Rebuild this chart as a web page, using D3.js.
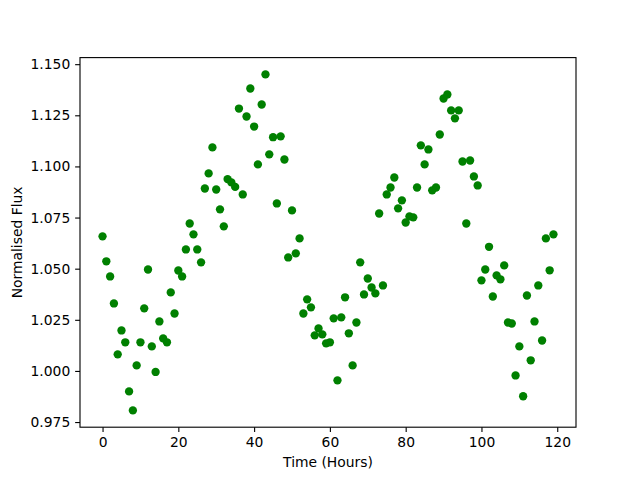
<!DOCTYPE html>
<html>
<head>
<meta charset="utf-8">
<script src="https://cdn.jsdelivr.net/npm/d3@7"></script>
<style>
  body { margin: 0; background: #fff; }
  svg { display: block; font-family: "DejaVu Sans", sans-serif; }
</style>
</head>
<body>
<div id="chart"></div>
<script>
// time in hours
const hours = [
  0, 1, 2, 3, 4, 5, 6, 7, 8, 9, 10, 11, 12, 13, 14, 15, 16, 17, 18, 19,
  20, 21, 22, 23, 24, 25, 26, 27, 28, 29, 30, 31, 32, 33, 34, 35, 36, 37, 38, 39,
  40, 41, 42, 43, 44, 45, 46, 47, 48, 49, 50, 51, 52, 53, 54, 55, 56, 57, 58, 59,
  60, 61, 62, 63, 64, 65, 66, 67, 68, 69, 70, 71, 72, 73, 74, 75, 76, 77, 78, 79,
  80, 81, 82, 83, 84, 85, 86, 87, 88, 89, 90, 91, 92, 93, 94, 95, 96, 97, 98, 99,
  100, 101, 102, 103, 104, 105, 106, 107, 108, 109, 110, 111, 112, 113, 114, 115, 116, 117, 118, 119
];

// normalised flux
const flux = [
  1.0658, 1.0536, 1.0462, 1.0330, 1.0081, 1.0198, 1.0140, 0.9900, 0.9807, 1.0027,
  1.0140, 1.0306, 1.0496, 1.0120, 0.9995, 1.0242, 1.0159, 1.0140, 1.0384, 1.0281,
  1.0491, 1.0462, 1.0594, 1.0721, 1.0668, 1.0594, 1.0531, 1.0892, 1.0966, 1.1093,
  1.0887, 1.0790, 1.0707, 1.0938, 1.0922, 1.0900, 1.1283, 1.0863, 1.1244, 1.1381,
  1.1195, 1.1010, 1.1303, 1.1450, 1.1059, 1.1143, 1.0819, 1.1147, 1.1034, 1.0555,
  1.0785, 1.0575, 1.0648, 1.0281, 1.0350, 1.0311, 1.0174, 1.0208, 1.0179, 1.0135,
  1.0140, 1.0257, 0.9954, 1.0262, 1.0360, 1.0184, 1.0027, 1.0237, 1.0531, 1.0374,
  1.0452, 1.0408, 1.0379, 1.0770, 1.0418, 1.0863, 1.0897, 1.0946, 1.0795, 1.0834,
  1.0726, 1.0756, 1.0751, 1.0897, 1.1103, 1.1010, 1.1083, 1.0883, 1.0897, 1.1156,
  1.1332, 1.1352, 1.1274, 1.1235, 1.1274, 1.1024, 1.0721, 1.1029, 1.0951, 1.0907,
  1.0443, 1.0496, 1.0607, 1.0364, 1.0467, 1.0448, 1.0516, 1.0237, 1.0232, 0.9978,
  1.0120, 0.9876, 1.0369, 1.0052, 1.0242, 1.0418, 1.0149, 1.0648, 1.0492, 1.0668
];

const xTicks = [0, 20, 40, 60, 80, 100, 120];
const yTicks = [0.975, 1.000, 1.025, 1.050, 1.075, 1.100, 1.125, 1.150];

const width = 640;
const height = 480;
const margin = { top: 57.6, right: 64, bottom: 52.8, left: 80 };
const innerW = width - margin.left - margin.right;
const innerH = height - margin.top - margin.bottom;
const pt = 100 / 72;

// matplotlib style 5% padding around the data
function padded(values) {
  const [lo, hi] = d3.extent(values);
  const pad = (hi - lo) * 0.05;
  return [lo - pad, hi + pad];
}

const x = d3.scaleLinear().domain(padded(hours)).range([0, innerW]);
const y = d3.scaleLinear().domain(padded(flux)).range([innerH, 0]);

const svg = d3.select('#chart')
  .append('svg')
  .attr('width', width)
  .attr('height', height);

const g = svg.append('g')
  .attr('transform', `translate(${margin.left},${margin.top})`);

g.append('clipPath')
  .attr('id', 'clip')
  .append('rect')
  .attr('width', innerW)
  .attr('height', innerH);

const points = hours.map((h, i) => ({ h: h, f: flux[i] }));

g.append('g')
  .attr('clip-path', 'url(#clip)')
  .selectAll('circle')
  .data(points)
  .join('circle')
  .attr('cx', d => x(d.h))
  .attr('cy', d => y(d.f))
  .attr('r', 3 * pt)
  .attr('fill', '#008000');

const xAxis = g.append('g')
  .attr('transform', `translate(0,${innerH})`)
  .call(d3.axisBottom(x)
    .tickValues(xTicks)
    .tickFormat(d3.format('d'))
    .tickSize(3.5 * pt)
    .tickPadding(3.5 * pt));

const yAxis = g.append('g')
  .call(d3.axisLeft(y)
    .tickValues(yTicks)
    .tickFormat(d3.format('.3f'))
    .tickSize(3.5 * pt)
    .tickPadding(3.5 * pt));

[xAxis, yAxis].forEach(ax => {
  ax.select('.domain').remove();
  ax.selectAll('line').attr('stroke', '#000').attr('stroke-width', 0.8 * pt);
  ax.selectAll('text')
    .attr('fill', '#000')
    .style('font-size', `${10 * pt}px`)
    .style('font-family', '"DejaVu Sans", sans-serif');
});

// frame
g.append('rect')
  .attr('width', innerW)
  .attr('height', innerH)
  .attr('fill', 'none')
  .attr('stroke', '#000')
  .attr('stroke-width', 0.8 * pt);

svg.append('text')
  .attr('x', margin.left + innerW / 2)
  .attr('y', 466.5)
  .attr('text-anchor', 'middle')
  .style('font-size', `${10 * pt}px`)
  .text('Time (Hours)');

svg.append('text')
  .attr('transform', `translate(22,${margin.top + innerH / 2}) rotate(-90)`)
  .attr('text-anchor', 'middle')
  .style('font-size', `${10 * pt}px`)
  .text('Normalised Flux');
</script>
</body>
</html>
